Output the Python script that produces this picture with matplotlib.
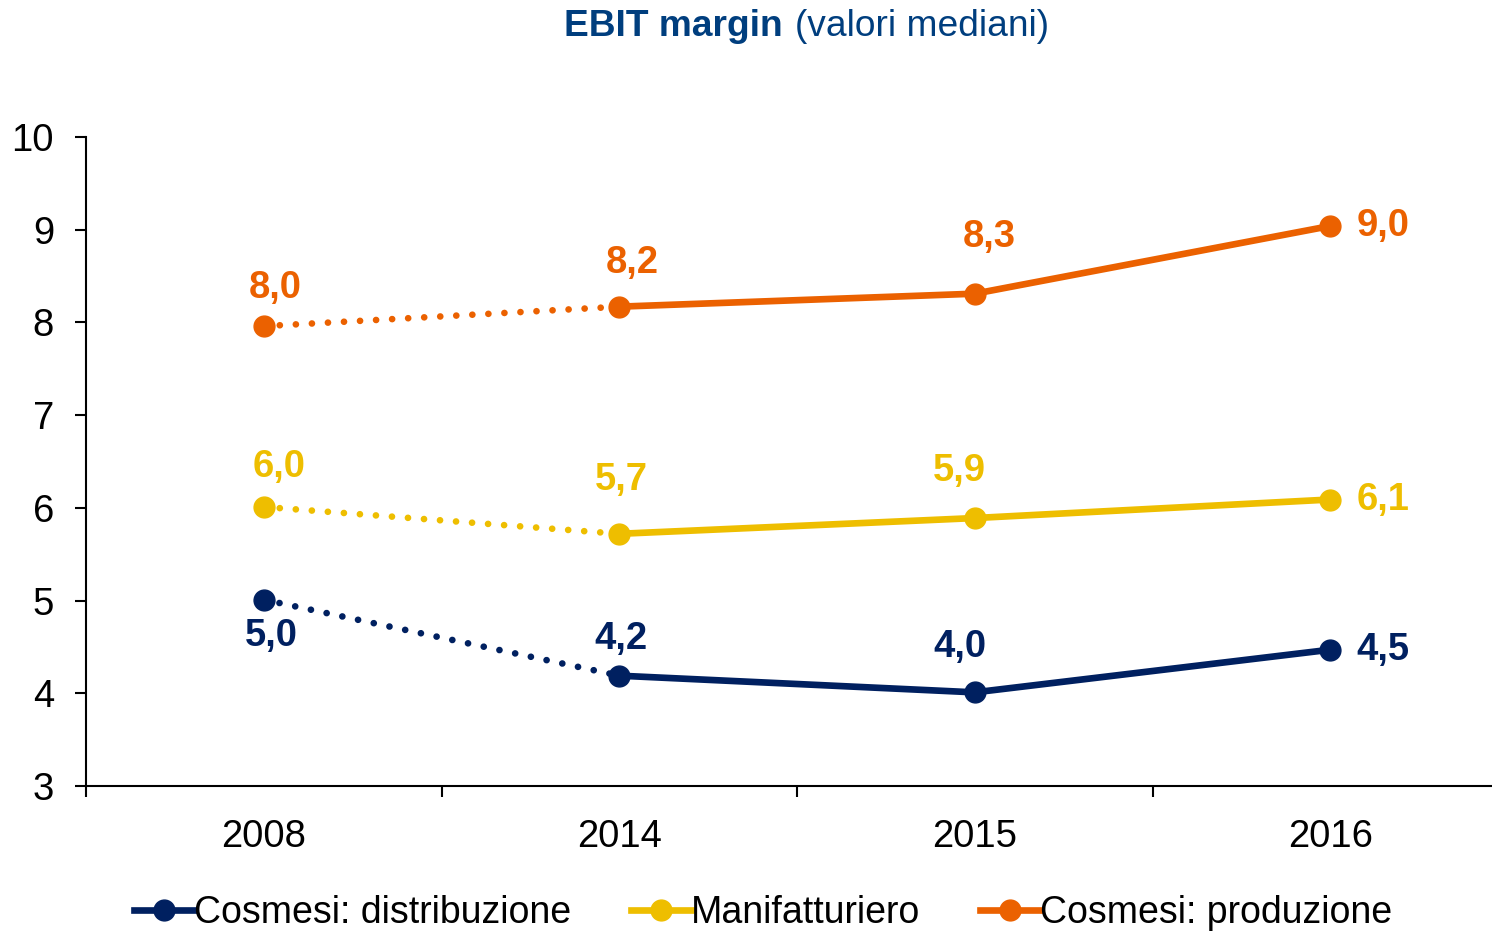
import matplotlib
matplotlib.use("Agg")
from matplotlib import pyplot as plt
from matplotlib.lines import Line2D

plt.rcParams["font.family"] = ["Liberation Sans", "DejaVu Sans"]

years = ["2008", "2014", "2015", "2016"]
series_names = ["Cosmesi: distribuzione", "Manifatturiero", "Cosmesi: produzione"]
distribuzione = [5.01, 4.19, 4.01, 4.47]
manifatturiero = [6.01, 5.72, 5.89, 6.09]
produzione = [7.96, 8.17, 8.31, 9.04]

colors = ["#002060", "#EEBE00", "#EB6100"]
title_color = "#003E7E"
FS = 27.5

# label offsets (pixels) per point, relative to the marker
offsets = [
    [(8, -36), (2, 37), (-15, 45), (53, 0)],
    [(15, 40), (2, 54), (-15, 47), (53, 0)],
    [(12, 38), (13, 44), (15, 57), (53, 0)],
]


def fmt(v):
    return f"{v:.1f}".replace(".", ",")


def main():
    fig = plt.figure(figsize=(14.92, 9.31), dpi=100)
    ax = fig.add_axes([86 / 1492, 145 / 931, 1422 / 1492, 649 / 931])
    xs = list(range(len(years)))
    all_series = [distribuzione, manifatturiero, produzione]

    for vals, col, offs in zip(all_series, colors, offsets):
        ax.plot(xs[:2], vals[:2], color=col, lw=4.8, linestyle=(0, (0.01, 2.4)),
                dash_capstyle="round", zorder=2)
        ax.plot(xs[1:], vals[1:], color=col, lw=4.8, solid_capstyle="round", zorder=2)
        ax.plot(xs, vals, "o", color=col, ms=15, zorder=3)
        for x, v, (dx, dy) in zip(xs, vals, offs):
            ax.annotate(fmt(v), (x, v), xytext=(dx, dy), textcoords="offset pixels",
                        ha="center", va="center", color=col, fontsize=FS,
                        fontweight="bold")

    ax.set_xlim(-0.5, 3.5)
    ax.set_ylim(3, 10)
    ax.set_yticks(range(3, 11))
    ax.set_xticks(xs)
    ax.set_xticklabels(years)
    ax.set_xticks([-0.5, 0.5, 1.5, 2.5, 3.5], minor=True)
    ax.tick_params(axis="x", which="major", length=0, pad=24, labelsize=FS)
    ax.tick_params(axis="x", which="minor", length=8, width=1.5, direction="out")
    ax.tick_params(axis="y", length=8, width=1.5, pad=15, labelsize=FS)
    for s in ["top", "right"]:
        ax.spines[s].set_visible(False)
    for s in ["left", "bottom"]:
        ax.spines[s].set_linewidth(1.5)

    fig.text(783 / 1492, 1 - 27 / 931, "EBIT margin", ha="right", va="center",
             fontsize=FS - 0.8, fontweight="bold", color=title_color)
    fig.text(795 / 1492, 1 - 27 / 931, "(valori mediani)", ha="left", va="center",
             fontsize=FS - 0.8, color=title_color)

    handles = [Line2D([], [], color=c, lw=4.8, marker="o", ms=15) for c in colors]
    fig.legend(handles, series_names, loc="center", bbox_to_anchor=(763 / 1492, 1 - 913 / 931),
               ncol=3, frameon=False, fontsize=FS - 0.5, handlelength=1.6, handletextpad=0.0,
               columnspacing=1.6, borderpad=0)

    fig.savefig("out.png", dpi=100)


if __name__ == "__main__":
    main()
